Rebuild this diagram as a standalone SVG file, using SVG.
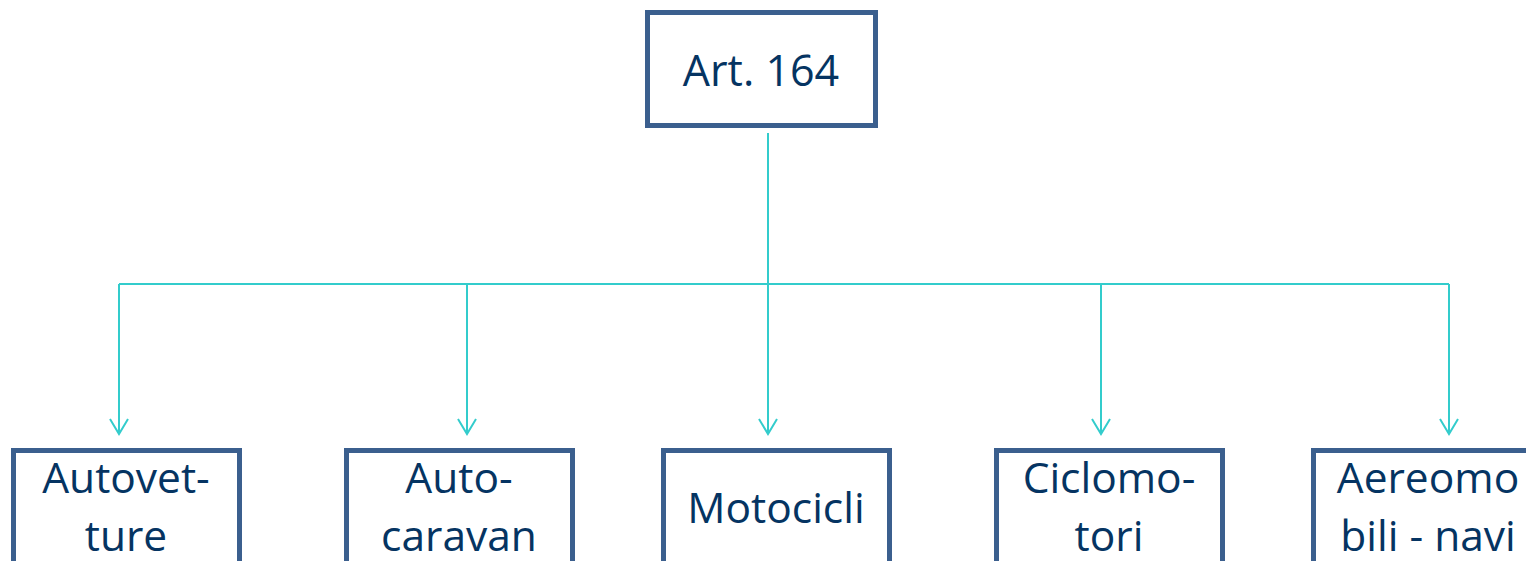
<svg xmlns="http://www.w3.org/2000/svg" width="1526" height="561" viewBox="0 0 1526 561">
<style>
.box{fill:#ffffff;stroke:#3B5F8E;stroke-width:5}
.t{font-family:"Open Sans","Liberation Sans",sans-serif;fill:#053462;text-anchor:middle}
.b{font-size:42.5px}
.conn{fill:none;stroke:#33CCCC;stroke-width:2}
</style>
<defs>
<marker id="arr" markerWidth="22" markerHeight="18" refX="10" refY="16" orient="0" markerUnits="userSpaceOnUse">
<path d="M1,1 L10,16 L19,1" fill="none" stroke="#33CCCC" stroke-width="2"/>
</marker>
</defs>
<rect width="1526" height="561" fill="#ffffff"/>
<g id="connectors">
<path class="conn" d="M768,133 V284"/>
<path class="conn" d="M119,284 H1449"/>
<path class="conn" d="M119,284 V434" marker-end="url(#arr)"/>
<path class="conn" d="M467,284 V434" marker-end="url(#arr)"/>
<path class="conn" d="M768,284 V434" marker-end="url(#arr)"/>
<path class="conn" d="M1101,284 V434" marker-end="url(#arr)"/>
<path class="conn" d="M1449,284 V434" marker-end="url(#arr)"/>
</g>
<g id="node-root">
<rect class="box" x="647.5" y="12.5" width="228" height="113"/>
<text class="t" x="761" y="86" font-size="43">Art. 164</text>
</g>
<g id="node-autovetture">
<rect class="box" x="13.5" y="450.5" width="226" height="140"/>
<text class="t b" x="126" y="493">Autovet-</text>
<text class="t b" x="126" y="551">ture</text>
</g>
<g id="node-autocaravan">
<rect class="box" x="346.5" y="450.5" width="226" height="140"/>
<text class="t b" x="459" y="493">Auto-</text>
<text class="t b" x="459" y="551">caravan</text>
</g>
<g id="node-motocicli">
<rect class="box" x="663.5" y="450.5" width="226" height="140"/>
<text class="t b" x="776" y="523">Motocicli</text>
</g>
<g id="node-ciclomotori">
<rect class="box" x="996.5" y="450.5" width="226" height="140"/>
<text class="t b" x="1109" y="493">Ciclomo-</text>
<text class="t b" x="1109" y="551">tori</text>
</g>
<g id="node-aereomobili">
<rect class="box" x="1313.5" y="450.5" width="226" height="140"/>
<text class="t b" x="1428" y="493">Aereomo</text>
<text class="t b" x="1428" y="551">bili - navi</text>
</g>
</svg>
